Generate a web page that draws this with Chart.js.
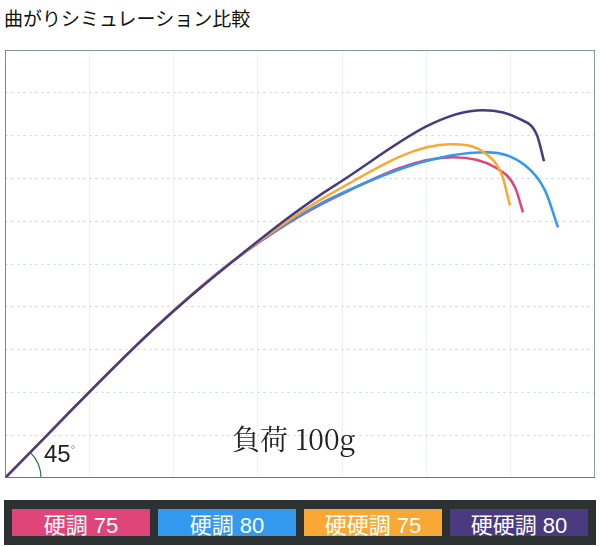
<!DOCTYPE html>
<html>
<head>
<meta charset="UTF-8">
<script src="https://cdn.jsdelivr.net/npm/chart.js"></script>
<style>
    body { margin: 0; width: 600px; height: 547px; background: #fff; position: relative; font-family: 'Noto Sans CJK JP', sans-serif; overflow: hidden; }
    .title { position: absolute; left: 4px; top: 4px; font-size: 19px; color: #111; }
    .chart-box { position: absolute; left: 5px; top: 50px; width: 590px; height: 428px; }
    .load { position: absolute; left: 232px; top: 418px; font-size: 28px; font-family: 'Noto Serif CJK JP', 'DejaVu Serif', serif; color: #222; }
    .angle { position: absolute; left: 44px; top: 440px; font-size: 24px; font-family: 'Liberation Sans', sans-serif; color: #222; }
    .angle sup { font-size: 11px; color: #4a8; }
    .legend { position: absolute; left: 4px; top: 500px; width: 592px; height: 45px; background: #2c3232; display: flex; gap: 8px; padding: 9px 8px; box-sizing: border-box; }
    .legend div { flex: 1; color: #fff; font-size: 22px; display: flex; align-items: center; justify-content: center; font-family: 'Liberation Sans', 'Noto Sans CJK JP', sans-serif; }
</style>
</head>
<body>
<div class="title">曲がりシミュレーション比較</div>
<div class="chart-box"><canvas id="c"></canvas></div>
<div class="load">負荷 100g</div>
<div class="angle">45<sup>°</sup></div>
<div class="legend" id="legend"></div>
<script>
    // shared first part of the bend (x, y in plot units)
    const common = [[0, 0], [148, 148], [230, 218]];
    const pink75 = [[330, 280], [448, 320], [490, 310], [510, 290], [518, 265]];
    const blue80 = [[330, 281], [482, 325], [520, 312], [540, 287], [553, 250]];
    const orange75 = [[330, 286], [445, 333], [480, 324], [497, 302], [505, 272]];
    const purple80 = [[330, 292], [478, 367], [515, 358], [532, 342], [539, 316]];

    const names = ['硬調 75', '硬調 80', '硬硬調 75', '硬硬調 80'];
    const colors = ['#e0457a', '#3399ee', '#f9a833', '#4a3a80'];
    const series = [pink75, blue80, orange75, purple80];

    const legend = document.getElementById('legend');
    names.forEach((n, i) => {
        const d = document.createElement('div');
        d.textContent = n;
        d.style.background = colors[i];
        legend.appendChild(d);
    });

    const arcPlugin = {
        id: 'arc',
        afterDraw(chart) {
            const { ctx, scales } = chart;
            const x0 = scales.x.getPixelForValue(0), y0 = scales.y.getPixelForValue(0);
            ctx.save();
            ctx.strokeStyle = '#3a7a5a';
            ctx.lineWidth = 1.2;
            ctx.beginPath();
            ctx.arc(x0, y0, 36, -Math.PI / 4, 0);
            ctx.stroke();
            ctx.restore();
        }
    };

    new Chart(document.getElementById('c'), {
        type: 'scatter',
        data: {
            datasets: series.map((s, i) => ({
                label: names[i],
                data: common.concat(s).map(p => ({ x: p[0], y: p[1] })),
                showLine: true,
                borderColor: colors[i],
                borderWidth: 2.5,
                pointRadius: 0,
                cubicInterpolationMode: 'monotone'
            })).reverse()
        },
        options: {
            animation: false,
            responsive: true,
            maintainAspectRatio: false,
            layout: { padding: 0 },
            plugins: { legend: { display: false }, tooltip: { enabled: false } },
            scales: {
                x: {
                    min: 0, max: 590,
                    ticks: { display: false, stepSize: 84.3 },
                    grid: { color: '#eef3f0', lineWidth: 1, drawTicks: false, tickLength: 0 },
                    border: { color: '#5f7f6f', width: 1.5 }
                },
                y: {
                    min: 0, max: 427,
                    ticks: { display: false, stepSize: 42.7 },
                    grid: { color: '#c8d6ce', lineWidth: 1, drawTicks: false, tickLength: 0 },
                    border: { color: '#5f7f6f', width: 1.5, dash: [2, 4] }
                }
            }
        },
        plugins: [arcPlugin, {
            id: 'frame',
            afterDraw(chart) {
                const { ctx, chartArea: a } = chart;
                ctx.save();
                ctx.strokeStyle = '#5f7f6f';
                ctx.lineWidth = 1.5;
                ctx.strokeRect(a.left, a.top, a.right - a.left, a.bottom - a.top);
                ctx.restore();
            }
        }]
    });
</script>
</body>
</html>
